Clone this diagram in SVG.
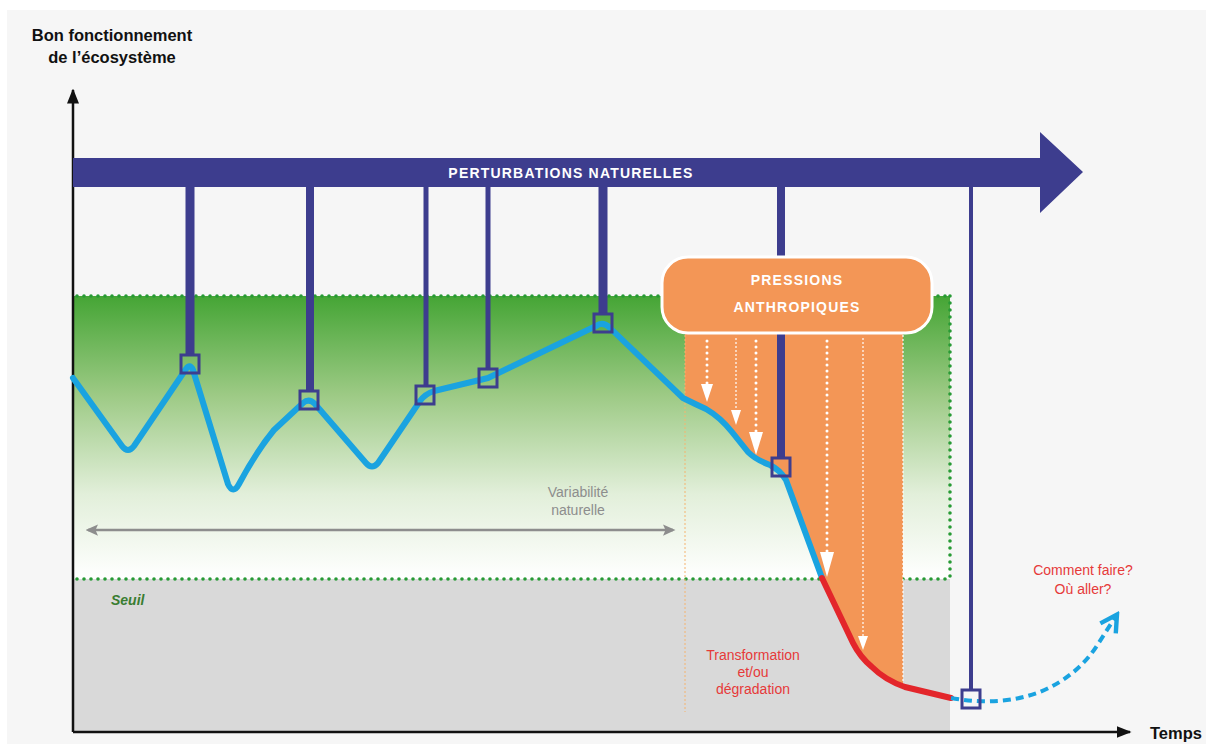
<svg xmlns="http://www.w3.org/2000/svg" width="1206" height="744" viewBox="0 0 1206 744">
  <defs>
    <style>
      .lbl { font-family: "Liberation Sans", Arial, sans-serif; }
      .axis-title { font-weight: bold; font-size: 16.5px; fill: #111; }
      .band-text { font-weight: bold; font-size: 14px; fill: #fff; letter-spacing: 1.2px; }
      .red-text { font-size: 14px; fill: #e63a3a; }
      .grey-text { font-size: 14px; fill: #8d8d8d; }
      .drop { stroke: #3d3d8e; fill: none; }
      .marker-box { fill: none; stroke: #3d3d8e; stroke-width: 3; }
      .green-dots { stroke: #279a35; stroke-width: 3.6; stroke-dasharray: 0 7; stroke-linecap: round; fill: none; }
      .white-dots { stroke: #fff; stroke-width: 3; stroke-dasharray: 0 6; stroke-linecap: round; fill: none; }
      .white-thin { stroke: #fff; stroke-width: 1.2; stroke-dasharray: 2 2; fill: none; }
      .curve { fill: none; stroke-width: 6; stroke-linejoin: round; stroke-linecap: round; }
    </style>
    <linearGradient id="greenZone" x1="0" y1="296" x2="0" y2="579" gradientUnits="userSpaceOnUse">
      <stop offset="0" stop-color="#45a535"/>
      <stop offset="0.35" stop-color="#9dca85"/>
      <stop offset="0.7" stop-color="#e2efda"/>
      <stop offset="1" stop-color="#ffffff"/>
    </linearGradient>
    <marker id="blackHead" viewBox="0 0 10 10" refX="9" refY="5" markerWidth="6" markerHeight="6" orient="auto-start-reverse" markerUnits="strokeWidth">
      <path d="M0,1 L10,5 L0,9 Z" fill="#111"/>
    </marker>
    <marker id="greyHead" viewBox="0 0 10 10" refX="8" refY="5" markerWidth="5" markerHeight="5" orient="auto-start-reverse" markerUnits="strokeWidth">
      <path d="M0,0.5 L10,5 L0,9.5 L2,5 Z" fill="#8d8d8d"/>
    </marker>
    <marker id="blueHead" viewBox="0 0 12 12" refX="9" refY="6" markerWidth="5.5" markerHeight="5.5" orient="auto" markerUnits="strokeWidth">
      <path d="M1,1 L10,6 L1,11" fill="none" stroke="#1aa3e0" stroke-width="2.4" stroke-linejoin="miter"/>
    </marker>
  </defs>

  <!-- page -->
  <rect x="0" y="0" width="1206" height="744" fill="#ffffff"/>
  <rect x="7" y="10" width="1199" height="734" fill="#f6f6f6"/>

  <!-- zones -->
  <g id="zone-variabilite">
    <rect x="73" y="296" width="877" height="283" fill="url(#greenZone)"/>
    <line class="green-dots" x1="77" y1="296" x2="950" y2="296"/>
    <line class="green-dots" x1="950" y1="296" x2="950" y2="579"/>
  </g>
  <g id="zone-seuil">
    <rect x="73" y="579" width="877" height="153" fill="#d9d9d9"/>
    <line class="green-dots" x1="77" y1="579" x2="950" y2="579"/>
    <text class="lbl" x="111" y="605" font-size="14" font-weight="bold" font-style="italic" fill="#3a7d31">Seuil</text>
  </g>

  <!-- human pressure column -->
  <g id="zone-pressions">
    <path d="M685,330 L903,330 L903,687 Q885,680 872,667 Q860,657 853,643 L822,578 L786,480 Q780,470 770,465 Q756,460 748,452 L732,432 Q720,417 706,409 Q695,404 685,399 Z" fill="#f39656"/>
    <line x1="685" y1="335" x2="685" y2="712" stroke="#f5b470" stroke-width="1" stroke-dasharray="2 2"/>
    <line class="white-thin" x1="903" y1="335" x2="903" y2="686"/>
    <!-- pressure arrows -->
    <line class="white-dots" x1="707" y1="341" x2="707" y2="384" stroke-width="2.3"/>
    <polygon points="701,384 713,384 707,402" fill="#fff"/>
    <line class="white-thin" x1="736" y1="338" x2="736" y2="411"/>
    <polygon points="731,410 741,410 736,425" fill="#fff"/>
    <line class="white-dots" x1="756" y1="341" x2="756" y2="432"/>
    <polygon points="749,432 763,432 756,455" fill="#fff"/>
    <line class="white-dots" x1="827" y1="341" x2="827" y2="552"/>
    <polygon points="820,552 834,552 827,577" fill="#fff"/>
    <line class="white-thin" x1="863" y1="338" x2="863" y2="637"/>
    <polygon points="858,636 868,636 863,650" fill="#fff"/>
  </g>

  <!-- axes -->
  <g id="axes">
    <line x1="73" y1="732" x2="73" y2="90" stroke="#111" stroke-width="2.5" marker-end="url(#blackHead)"/>
    <line x1="73" y1="732" x2="1130" y2="732" stroke="#111" stroke-width="2.5" marker-end="url(#blackHead)"/>
    <text class="lbl axis-title" x="112" y="41" text-anchor="middle">Bon fonctionnement</text>
    <text class="lbl axis-title" x="112" y="63" text-anchor="middle">de l’écosystème</text>
    <text class="lbl axis-title" x="1150" y="739" font-size="16">Temps</text>
  </g>

  <!-- natural variability range -->
  <g id="variabilite">
    <line x1="88" y1="530" x2="673" y2="530" stroke="#8d8d8d" stroke-width="2.5" marker-start="url(#greyHead)" marker-end="url(#greyHead)"/>
    <text class="lbl grey-text" x="578" y="497" text-anchor="middle">Variabilité</text>
    <text class="lbl grey-text" x="578" y="515" text-anchor="middle">naturelle</text>
  </g>

  <!-- connectors: natural disturbances hitting the curve -->
  <g id="connectors">
    <line class="drop" x1="190" y1="186" x2="190" y2="355" stroke-width="9"/>
    <line class="drop" x1="310" y1="186" x2="310" y2="391" stroke-width="8"/>
    <line class="drop" x1="426" y1="186" x2="426" y2="386" stroke-width="5"/>
    <line class="drop" x1="488" y1="186" x2="488" y2="369" stroke-width="5"/>
    <line class="drop" x1="603" y1="186" x2="603" y2="314" stroke-width="9"/>
    <line class="drop" x1="781" y1="186" x2="781" y2="458" stroke-width="8"/>
    <line class="drop" x1="971" y1="186" x2="971" y2="690" stroke-width="4"/>
  </g>

  <!-- natural disturbances band -->
  <g id="perturbations">
    <path d="M73,158 L1040,158 L1040,132 L1083,172 L1040,213 L1040,187 L73,187 Z" fill="#3d3d8e"/>
    <text class="lbl band-text" x="571" y="178" text-anchor="middle">PERTURBATIONS NATURELLES</text>
  </g>

  <!-- human pressures box -->
  <g id="pressions">
    <rect x="662" y="257" width="270" height="76" rx="26" ry="26" fill="#f39656" stroke="#ffffff" stroke-width="3"/>
    <text class="lbl band-text" x="797" y="285" text-anchor="middle" letter-spacing="1.5">PRESSIONS</text>
    <text class="lbl band-text" x="797" y="312" text-anchor="middle" letter-spacing="1.5">ANTHROPIQUES</text>
  </g>

  <!-- ecosystem trajectory -->
  <g id="trajectoire">
    <path class="curve" stroke="#1aa3e0" d="M73,378 L122,446 Q128,454 134,446 L186,369 Q190,363 193,370 L228,484 Q233,495 239,484 Q256,452 274,430 L303,403 Q309,398 315,404 L366,463 Q372,470 378,463 L420,401 Q425,394 434,391 L488,378 L596,326 Q603,321 610,328 L683,398 Q695,404 706,409 Q720,417 732,432 L748,452 Q756,460 770,465 Q780,470 786,480 L822,578"/>
    <path class="curve" stroke="#e3262b" d="M822,578 L853,643 Q860,657 872,667 Q885,680 905,687 L951,698"/>
    <path fill="none" stroke="#1aa3e0" stroke-width="4" stroke-dasharray="8 5" d="M951,698 Q1000,707 1040,692 Q1078,676 1098,644 L1116,616" marker-end="url(#blueHead)"/>
  </g>

  <!-- impact markers -->
  <g id="impacts">
    <rect class="marker-box" x="181" y="355" width="18" height="18"/>
    <rect class="marker-box" x="300" y="391" width="18" height="18"/>
    <rect class="marker-box" x="416" y="386" width="18" height="18"/>
    <rect class="marker-box" x="479" y="369" width="18" height="18"/>
    <rect class="marker-box" x="594" y="314" width="18" height="18"/>
    <rect class="marker-box" x="772" y="458" width="18" height="18"/>
    <rect class="marker-box" x="962" y="690" width="18" height="18"/>
  </g>

  <!-- outcome labels -->
  <g id="transformation">
    <text class="lbl red-text" x="753" y="660" text-anchor="middle">Transformation</text>
    <text class="lbl red-text" x="753" y="677" text-anchor="middle">et/ou</text>
    <text class="lbl red-text" x="753" y="694" text-anchor="middle">dégradation</text>
  </g>
  <g id="question">
    <text class="lbl red-text" x="1083" y="575" text-anchor="middle">Comment faire?</text>
    <text class="lbl red-text" x="1083" y="594" text-anchor="middle">Où aller?</text>
  </g>
</svg>
